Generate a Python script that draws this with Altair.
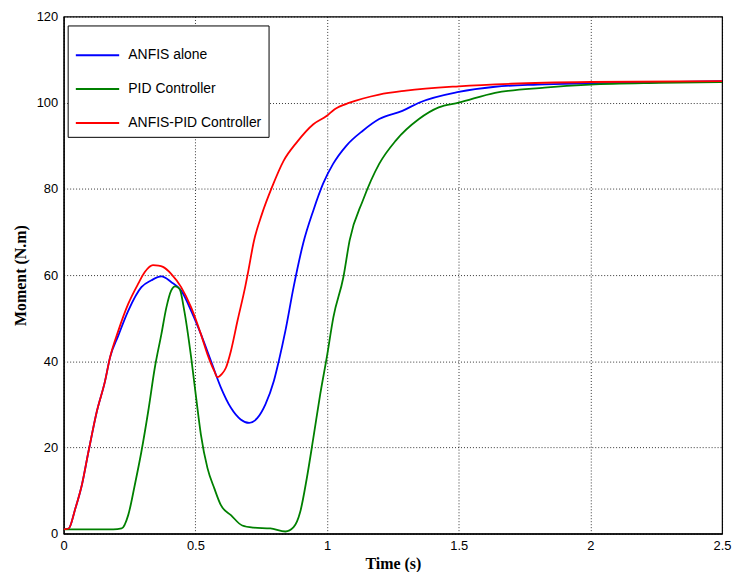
import altair as alt
import pandas as pd

t_red = [0, 0.019, 0.044, 0.069, 0.094, 0.126, 0.157, 0.176, 0.207, 0.245, 0.283, 0.308, 0.339, 0.36, 0.377,
         0.408, 0.446, 0.484, 0.521, 0.546, 0.572, 0.584, 0.60, 0.616, 0.635, 0.66, 0.69, 0.70, 0.722, 0.753,
         0.791, 0.835, 0.885, 0.948, 0.998, 1.029, 1.086, 1.198, 1.3, 1.5, 1.7, 2.0, 2.5]
v_red = [1, 1.2, 5.8, 11.3, 19, 28.4, 35.4, 40.9, 47, 53.3, 58, 60.7, 62.3, 62.2, 61.9,
         60.3, 57.2, 52.5, 46.3, 41.6, 37.7, 36.3, 37, 38.5, 42.4, 49.4, 57.5, 60.6, 67.8, 74.2,
         80.4, 86.5, 90.8, 95, 96.9, 98.5, 100, 101.9, 102.8, 103.8, 104.4, 104.8, 105]

t_blue = [0, 0.019, 0.044, 0.069, 0.094, 0.126, 0.157, 0.176, 0.207, 0.245, 0.295, 0.333, 0.371, 0.408, 0.446,
          0.484, 0.521, 0.559, 0.597, 0.635, 0.672, 0.704, 0.735, 0.766, 0.798, 0.817, 0.842, 0.873, 0.91,
          0.948, 0.985, 1.023, 1.073, 1.136, 1.198, 1.286, 1.349, 1.5, 1.638, 1.8, 2.0, 2.5]
v_blue = [1, 1.2, 5.8, 11.3, 19, 28.4, 35.4, 40.9, 45.9, 51.7, 57.2, 58.8, 59.7, 58.4, 56.4,
          51.7, 46.3, 40.1, 33.9, 29.2, 26.5, 25.7, 26.8, 30, 35.4, 40.1, 47.1, 57.2, 67.5,
          75, 81.2, 85.8, 90, 93.5, 96.2, 98.1, 100, 102.5, 103.7, 104.2, 104.5, 105]

t_green = [0, 0.188, 0.22, 0.245, 0.27, 0.295, 0.321, 0.346, 0.371, 0.39, 0.408, 0.423, 0.44, 0.458, 0.484,
           0.503, 0.521, 0.546, 0.572, 0.597, 0.635, 0.678, 0.722, 0.785, 0.842, 0.873, 0.898, 0.923, 0.948,
           0.974, 0.999, 1.024, 1.062, 1.086, 1.136, 1.198, 1.261, 1.349, 1.424, 1.5, 1.638, 1.826, 2.0, 2.26, 2.5]
v_green = [1, 1, 1.2, 4.3, 11.3, 19, 28.4, 38.5, 46.3, 52.5, 56.4, 57.4, 56.8, 51.7, 40.9,
           31.5, 23, 15.2, 10.5, 6.6, 4.3, 1.9, 1.4, 1.2, 0.5, 1.5, 5, 12.8, 22.2,
           32.3, 40.9, 50.2, 59.5, 68.1, 77.3, 85.8, 91.2, 96.2, 98.9, 100, 102.3, 103.5, 104.2, 104.6, 104.8]

series_names = ["ANFIS alone", "PID Controller", "ANFIS-PID Controller"]
series_colors = ["#0000FF", "#008000", "#FF0000"]

rows = []
for name, ts, vs in [(series_names[0], t_blue, v_blue),
                     (series_names[1], t_green, v_green),
                     (series_names[2], t_red, v_red)]:
    for i, (t, v) in enumerate(zip(ts, vs)):
        rows.append({"series": name, "t": t, "v": v, "i": i})
df = pd.DataFrame(rows)

chart = alt.Chart(df).mark_line(strokeWidth=1.8, clip=True, interpolate="monotone").encode(
    x=alt.X("t:Q", title="Time (s)",
            scale=alt.Scale(domain=[0, 2.5], nice=False),
            axis=alt.Axis(values=[0, 0.5, 1, 1.5, 2, 2.5], format="~g", labelFlush=False)),
    y=alt.Y("v:Q", title="Moment (N.m)",
            scale=alt.Scale(domain=[0, 120], nice=False),
            axis=alt.Axis(values=[0, 20, 40, 60, 80, 100, 120], labelFlush=False)),
    color=alt.Color("series:N",
                    scale=alt.Scale(domain=series_names, range=series_colors),
                    legend=alt.Legend(title=None, orient="none", legendX=4, legendY=9,
                                      strokeColor="black", fillColor="white",
                                      padding=7, rowPadding=4,
                                      symbolType="stroke", symbolSize=1900,
                                      symbolStrokeWidth=2, labelFontSize=14,
                                      labelFont="Liberation Sans", labelColor="black",
                                      labelOffset=8)),
    order="i:Q",
).properties(
    width=662, height=520,
    autosize=alt.AutoSizeParams(type="none"),
    padding={"left": 56, "top": 7, "right": 10, "bottom": 37},
).configure_view(
    stroke="black", strokeWidth=1.2
).configure_axis(
    domainColor="black", domainWidth=1.2,
    ticks=False,
    grid=True, gridColor="black", gridDash=[1, 2], gridOpacity=0.8, gridWidth=1,
    labelFont="Liberation Sans", labelFontSize=13, labelColor="black", labelPadding=6,
    titleFont="Liberation Serif", titleFontSize=16, titleFontWeight="bold", titleColor="black",
).configure_axisY(
    titlePadding=8
).configure_axisX(
    titlePadding=3
)

chart.save("out.html", embed_options={"renderer": "svg", "actions": False})
